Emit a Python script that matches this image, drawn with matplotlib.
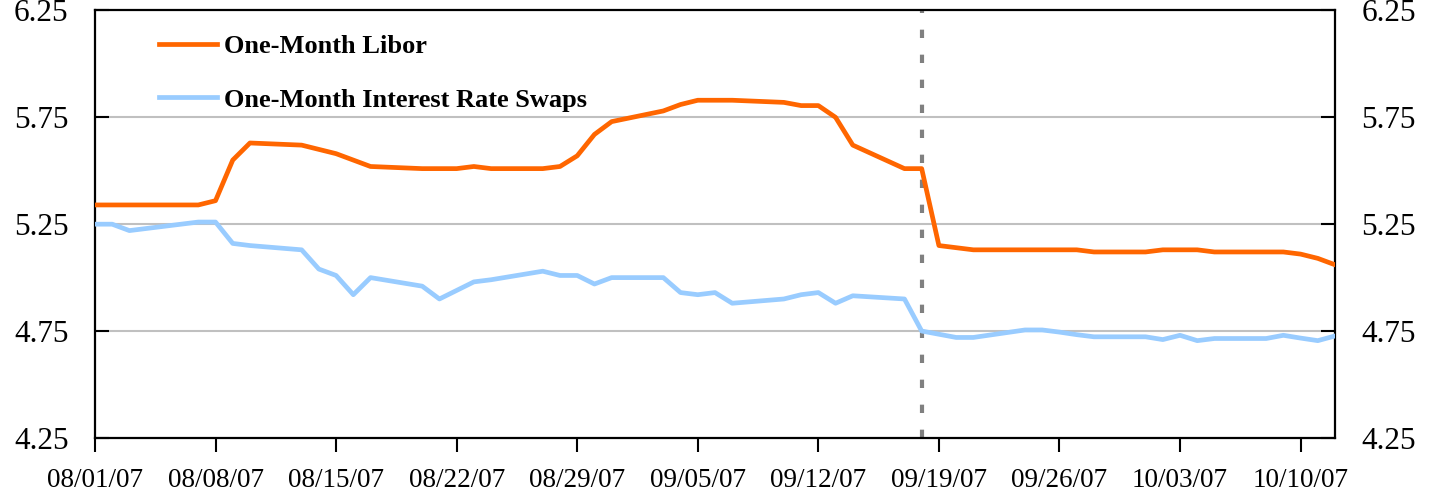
"""One-Month Libor vs one-month interest rate swaps, Aug-Oct 2007."""

import matplotlib

matplotlib.use("Agg")

import matplotlib.dates as mdates
import matplotlib.pyplot as plt
import pandas as pd

# ---------------------------------------------------------------------------
# Data (percent), one value per business day
# ---------------------------------------------------------------------------

DATES = [
    "2007-08-01", "2007-08-02", "2007-08-03", "2007-08-06", "2007-08-07",
    "2007-08-08", "2007-08-09", "2007-08-10", "2007-08-13", "2007-08-14",
    "2007-08-15", "2007-08-16", "2007-08-17", "2007-08-20", "2007-08-21",
    "2007-08-22", "2007-08-23", "2007-08-24", "2007-08-27", "2007-08-28",
    "2007-08-29", "2007-08-30", "2007-08-31",
    "2007-09-03", "2007-09-04", "2007-09-05", "2007-09-06", "2007-09-07",
    "2007-09-10", "2007-09-11", "2007-09-12", "2007-09-13", "2007-09-14",
    "2007-09-17", "2007-09-18", "2007-09-19", "2007-09-20", "2007-09-21",
    "2007-09-24", "2007-09-25", "2007-09-26", "2007-09-27", "2007-09-28",
    "2007-10-01", "2007-10-02", "2007-10-03", "2007-10-04", "2007-10-05",
    "2007-10-08", "2007-10-09", "2007-10-10", "2007-10-11", "2007-10-12",
]

LIBOR = [
    5.34, 5.34, 5.34, 5.34, 5.34, 5.36, 5.55, 5.63, 5.62, 5.60,
    5.58, 5.55, 5.52, 5.51, 5.51, 5.51, 5.52, 5.51, 5.51, 5.52,
    5.57, 5.67, 5.73,
    5.78, 5.81, 5.83, 5.83, 5.83, 5.82, 5.805, 5.805, 5.75, 5.62,
    5.51, 5.51, 5.15, 5.14, 5.13, 5.13, 5.13, 5.13, 5.13, 5.12,
    5.12, 5.13, 5.13, 5.13, 5.12, 5.12, 5.12, 5.11, 5.09, 5.06,
]

SWAPS = [
    5.25, 5.25, 5.22, 5.25, 5.26, 5.26, 5.16, 5.15, 5.13, 5.04,
    5.01, 4.92, 5.00, 4.96, 4.90, 4.94, 4.98, 4.99, 5.03, 5.01,
    5.01, 4.97, 5.00,
    5.00, 4.93, 4.92, 4.93, 4.88, 4.90, 4.92, 4.93, 4.88, 4.915,
    4.90, 4.75, 4.735, 4.72, 4.72, 4.755, 4.755, 4.745, 4.733, 4.723,
    4.723, 4.71, 4.73, 4.705, 4.715, 4.715, 4.73, 4.717, 4.705, 4.727,
]

SERIES_LABELS = ["One-Month Libor", "One-Month Interest Rate Swaps"]
Y_TICKS = [4.25, 4.75, 5.25, 5.75, 6.25]
GRID_LEVELS = [4.75, 5.25, 5.75]
EVENT_DATE = "2007-09-18"
X_START, X_END = "2007-08-01", "2007-10-12"

ORANGE = "#FF6600"
LIGHT_BLUE = "#99CCFF"
SERIF = "Liberation Serif"


def main() -> None:
    dates = pd.to_datetime(DATES)

    fig = plt.figure(figsize=(14.3, 4.95), dpi=100)
    ax = fig.add_axes([0.0664, 0.1154, 0.8672, 0.8634])

    for level in GRID_LEVELS:
        ax.axhline(level, color="#C0C0C0", lw=1.5, zorder=1)

    ax.axvline(pd.Timestamp(EVENT_DATE), color="#808080", lw=3.0,
               dashes=(2.0, 4.0), zorder=2)

    ax.plot(dates, LIBOR, color=ORANGE, lw=3.4, label=SERIES_LABELS[0], zorder=3)
    ax.plot(dates, SWAPS, color=LIGHT_BLUE, lw=3.4, label=SERIES_LABELS[1], zorder=3)

    ax.set_xlim(pd.Timestamp(X_START), pd.Timestamp(X_END))
    ax.set_ylim(Y_TICKS[0], Y_TICKS[-1])

    # weekly ticks on Wednesdays, starting 08/01/07
    ax.xaxis.set_major_locator(mdates.WeekdayLocator(byweekday=mdates.WE))
    ax.xaxis.set_major_formatter(mdates.DateFormatter("%m/%d/%y"))
    ax.set_yticks(Y_TICKS)
    ax.set_yticklabels([f"{t:.2f}" for t in Y_TICKS])

    ax.tick_params(axis="x", direction="out", length=10, width=1.5, pad=12,
                   labelsize=19.5)
    ax.tick_params(axis="y", direction="in", length=10, width=1.5, pad=19,
                   labelsize=22.5, left=True, right=True,
                   labelleft=True, labelright=True)
    for lbl in ax.get_xticklabels():
        lbl.set_fontfamily(SERIF)
    for tick in ax.yaxis.get_major_ticks():
        tick.label1.set_fontfamily(SERIF)
        tick.label2.set_fontfamily(SERIF)

    for spine in ax.spines.values():
        spine.set_linewidth(1.6)
        spine.set_color("black")

    leg = ax.legend(loc="upper left", bbox_to_anchor=(0.052, 0.943),
                    frameon=False, borderpad=0, borderaxespad=0,
                    handlelength=2.2, handletextpad=0.25, labelspacing=1.13,
                    prop={"family": SERIF, "weight": "bold", "size": 19})
    for line in leg.get_lines():
        line.set_linewidth(3.4)

    fig.savefig("out.png", dpi=100)
    plt.close(fig)


if __name__ == "__main__":
    main()
